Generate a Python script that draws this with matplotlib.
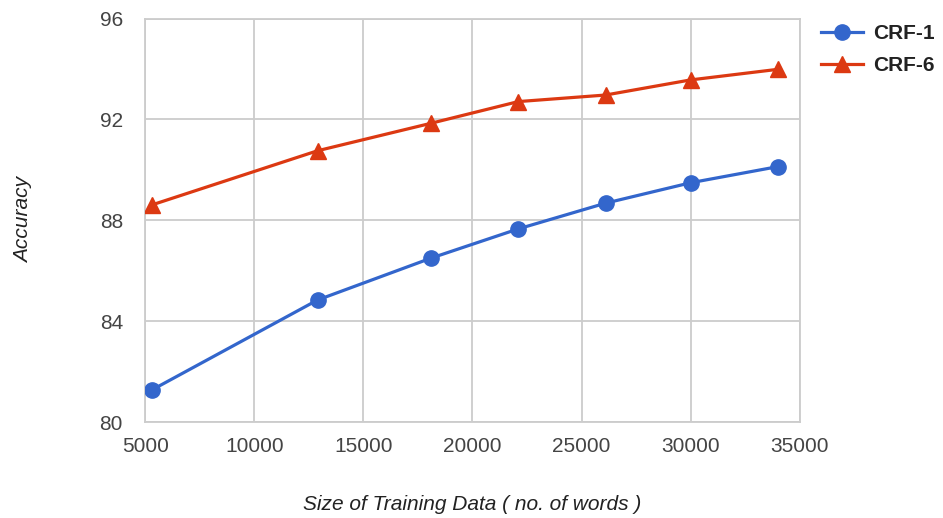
import matplotlib
matplotlib.use('Agg')
import matplotlib.pyplot as plt

plt.rcParams['font.family'] = ['Liberation Sans', 'DejaVu Sans']

# data
train_size = [5300, 12900, 18100, 22100, 26100, 30000, 34000]
crf1_acc = [81.27, 84.84, 86.50, 87.66, 88.68, 89.49, 90.13]
crf6_acc = [88.61, 90.76, 91.85, 92.71, 92.97, 93.57, 93.99]
x_ticks = [5000, 10000, 15000, 20000, 25000, 30000, 35000]
y_ticks = [80, 84, 88, 92, 96]

fig = plt.figure(figsize=(9.43, 5.18), dpi=100)
ax = fig.add_axes([0.154, 0.1853, 0.694, 0.7787])

ax.plot(train_size, crf1_acc, color='#3366CC', marker='o', markersize=11,
        linewidth=2.3, label='CRF-1', zorder=3)
ax.plot(train_size, crf6_acc, color='#DC3912', marker='^', markersize=12,
        linewidth=2.3, label='CRF-6', zorder=3)

ax.set_xlim(5000, 35000)
ax.set_ylim(80, 96)
ax.set_xticks(x_ticks)
ax.set_yticks(y_ticks)
ax.grid(True, color='#cccccc', linewidth=1.3)
for s in ax.spines.values():
    s.set_color('#cccccc')
    s.set_linewidth(1.3)
ax.tick_params(length=0, labelsize=15, labelcolor='#444444')
ax.tick_params(axis='x', pad=11)
ax.tick_params(axis='y', pad=16)

ax.set_xlabel('Size of Training Data ( no. of words )', fontsize=15,
              fontstyle='italic', color='#222222', labelpad=28)
ax.set_ylabel('Accuracy', fontsize=15, fontstyle='italic', color='#222222',
              labelpad=48)

leg = fig.legend(loc='upper left', bbox_to_anchor=(821 / 943, 0.953),
                 frameon=False, borderpad=0, borderaxespad=0,
                 handlelength=2.0, handletextpad=0.5, labelspacing=0.6,
                 prop={'size': 15, 'weight': 'bold'})
for t in leg.get_texts():
    t.set_color('#222222')

fig.savefig('out.png', dpi=100)
